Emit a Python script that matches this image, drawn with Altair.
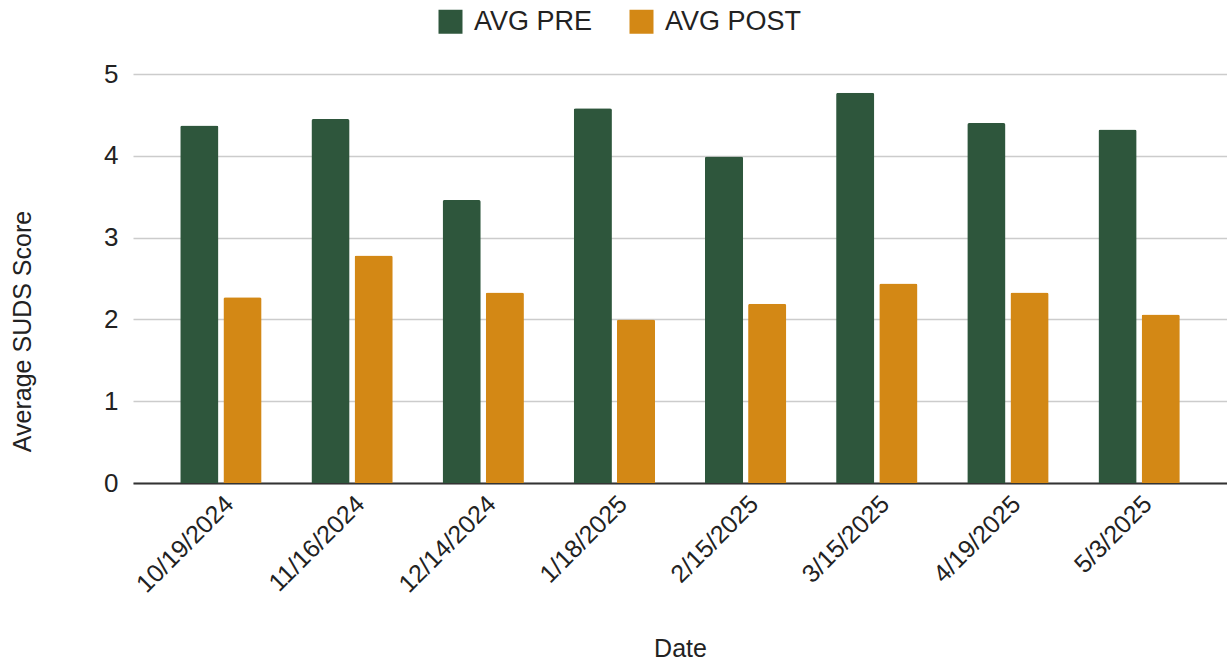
import altair as alt
import pandas as pd

# Session dates and average SUDS scores before / after each session
dates = ["10/19/2024", "11/16/2024", "12/14/2024", "1/18/2025",
         "2/15/2025", "3/15/2025", "4/19/2025", "5/3/2025"]
avg_pre = [4.37, 4.45, 3.46, 4.58, 3.99, 4.77, 4.40, 4.32]
avg_post = [2.27, 2.78, 2.33, 2.00, 2.19, 2.44, 2.33, 2.06]

series_names = ["AVG PRE", "AVG POST"]
series_colors = ["#2e563c", "#d38815"]
y_ticks = [0, 1, 2, 3, 4, 5]

rows = []
for d, a, b in zip(dates, avg_pre, avg_post):
    rows.append({"Date": d, "Series": "AVG PRE", "Score": a})
    rows.append({"Date": d, "Series": "AVG POST", "Score": b})
df = pd.DataFrame(rows)

FONT = "Liberation Sans"
TEXT = "#222222"

bars = alt.Chart(df).mark_bar(
    cornerRadiusTopLeft=2, cornerRadiusTopRight=2
).encode(
    x=alt.X(
        "Date:N",
        sort=dates,
        scale=alt.Scale(paddingInner=0.38, paddingOuter=0.36),
        axis=alt.Axis(
            title="Date",
            labelAngle=-45,
            labelFontSize=25,
            labelColor=TEXT,
            labelPadding=8,
            ticks=False,
            domainColor="#333333",
            domainWidth=2,
            titleFontSize=25,
            titleFontWeight="normal",
            titleColor=TEXT,
            titleY=165,
            titleBaseline="middle",
        ),
    ),
    xOffset=alt.XOffset(
        "Series:N",
        sort=series_names,
        scale=alt.Scale(paddingInner=0.116, paddingOuter=0),
    ),
    y=alt.Y(
        "Score:Q",
        scale=alt.Scale(domain=[0, 5]),
        axis=alt.Axis(
            title="Average SUDS Score",
            values=y_ticks,
            format="d",
            domain=False,
            ticks=False,
            labelPadding=15,
            labelFontSize=26,
            labelColor=TEXT,
            gridColor="#cccccc",
            gridWidth=1.5,
            titleFontSize=25,
            titleFontWeight="normal",
            titleColor=TEXT,
            titleX=-111,
            titleY=257,
            titleAngle=-90,
            titleAlign="center",
            titleBaseline="middle",
        ),
    ),
    color=alt.Color(
        "Series:N",
        sort=series_names,
        scale=alt.Scale(domain=series_names, range=series_colors),
        legend=alt.Legend(
            title=None,
            orient="none",
            legendX=304,
            legendY=-66,
            direction="horizontal",
            symbolType="square",
            symbolSize=576,
            symbolStrokeWidth=0,
            symbolOpacity=1,
            labelFontSize=27,
            labelColor=TEXT,
            labelOffset=10,
            columnPadding=35,
            padding=0,
        ),
    ),
)

chart = bars.properties(
    width=1094,
    height=409,
    padding={"left": 133, "top": 74, "right": 0, "bottom": 179},
    autosize=alt.AutoSizeParams(type="none"),
    background="white",
).configure(font=FONT).configure_view(stroke=None)

chart.save("out.html", embed_options={"renderer": "svg", "actions": False})
